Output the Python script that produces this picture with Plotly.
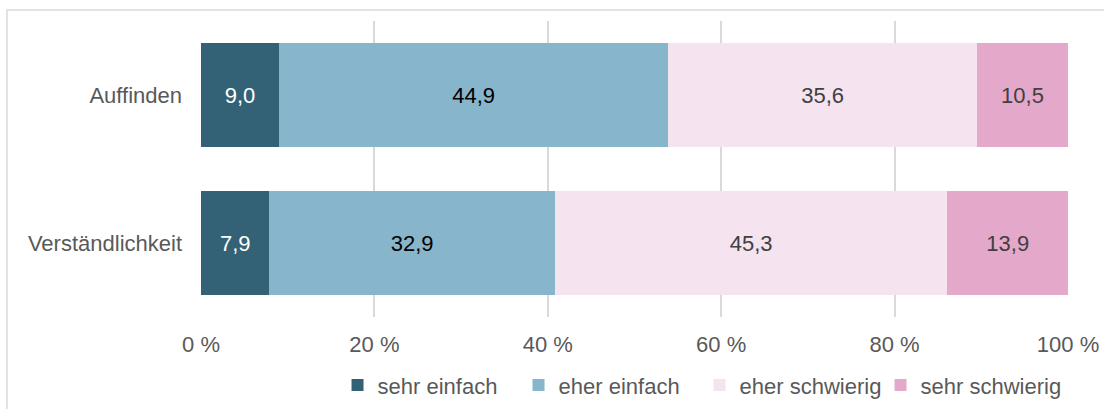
import plotly.graph_objects as go

categories = ["Auffinden", "Verständlichkeit"]
series_names = ["sehr einfach", "eher einfach", "eher schwierig", "sehr schwierig"]
sehr_einfach = [9.0, 7.9]
eher_einfach = [44.9, 32.9]
eher_schwierig = [35.6, 45.3]
sehr_schwierig = [10.5, 13.9]
tick_vals = [0, 20, 40, 60, 80, 100]
tick_text = ["0 %", "20 %", "40 %", "60 %", "80 %", "100 %"]

colors = ["#336276", "#87b5cc", "#f5e3ef", "#e4a8cb"]
label_colors = ["#ffffff", "#000000", "#404040", "#404040"]
values = [sehr_einfach, eher_einfach, eher_schwierig, sehr_schwierig]

FONT = "Liberation Sans, Arial, sans-serif"
FS = 22
fig = go.Figure()
for name, vals, col, lc in zip(series_names, values, colors, label_colors):
    fig.add_trace(go.Bar(
        y=categories, x=vals, name=name, orientation="h",
        marker=dict(color=col, line=dict(width=0)),
        text=[f"{v:.1f}".replace(".", ",") for v in vals],
        textposition="inside", insidetextanchor="middle",
        textfont=dict(color=lc, size=FS, family=FONT),
        hoverinfo="skip",
    ))

fig.update_layout(
    barmode="stack", bargap=0.30,
    width=1104, height=409,
    margin=dict(l=201, r=36, t=21, b=92, autoexpand=False),
    paper_bgcolor="white", plot_bgcolor="white",
    font=dict(family=FONT, size=FS, color="#595959"),
    xaxis=dict(range=[0, 100], tickvals=tick_vals, ticktext=tick_text,
               showgrid=True, gridcolor="#d9d9d9", gridwidth=1.5,
               zeroline=False, showline=False, ticks="", automargin=False,
               tickfont=dict(size=FS, color="#595959"), ticklabelstandoff=12),
    yaxis=dict(autorange="reversed", showgrid=False, zeroline=False, automargin=False,
               ticks="", tickfont=dict(size=FS, color="#595959"), ticklabelstandoff=18),
    legend=dict(orientation="h", x=0.575, xanchor="center",
                yref="container", y=0.058, yanchor="middle",
                font=dict(size=FS, color="#595959"), traceorder="normal",
                itemwidth=30, entrywidth=136, entrywidthmode="pixels"),
    showlegend=True,
)

fig.add_shape(type="rect", xref="paper", yref="paper",
              x0=-0.2238, x1=1.3, y0=-0.6, y1=1.0372,
              line=dict(color="#d9d9d9", width=1.5), fillcolor="rgba(0,0,0,0)", layer="below")

fig.write_html("out.html", config={"displayModeBar": False},
               post_script="document.body.style.margin='0';document.body.style.overflow='hidden';")
